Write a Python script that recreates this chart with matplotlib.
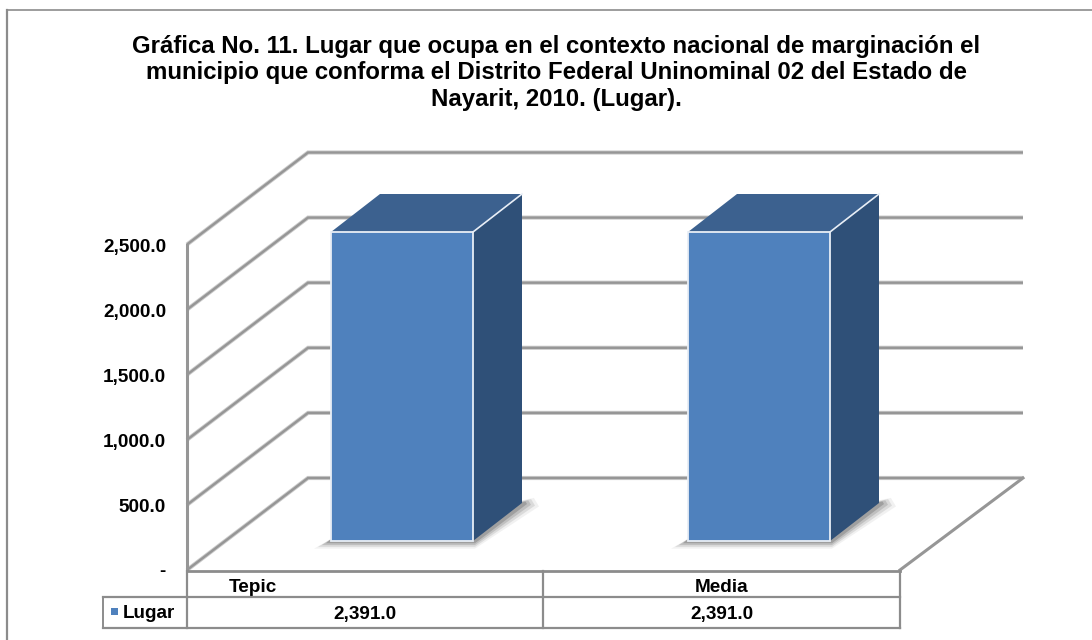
import matplotlib
matplotlib.use("Agg")
import matplotlib.pyplot as plt
from matplotlib.patches import Polygon, Rectangle

plt.rcParams['font.family'] = ['Liberation Sans', 'DejaVu Sans']

title = ("Gráfica No. 11. Lugar que ocupa en el contexto nacional de marginación el\n"
         "municipio que conforma el Distrito Federal Uninominal 02 del Estado de\n"
         "Nayarit, 2010. (Lugar).")
categories = ["Tepic", "Media"]
values = [2391.0, 2391.0]
series_name = "Lugar"
ticks = [0, 500, 1000, 1500, 2000, 2500]
tick_labels = ["-", "500.0", "1,000.0", "1,500.0", "2,000.0", "2,500.0"]

GREY = "#8c8c8c"
FRONT = "#4f81bd"
TOP = "#3c618f"
SIDE = "#2f5078"
EDGE = "#e8eef6"

# picture is laid out in pixels, y going down
fig = plt.figure(figsize=(10.92, 6.40), dpi=100)
ax = fig.add_axes([0, 0, 1, 1])
ax.set_xlim(0, 1092)
ax.set_ylim(640, 0)
ax.axis("off")

# front plane of the 3d box and its depth offset
x0, x1 = 187, 900
y0 = 570
px_per_unit = 65.1 / 500
dx, dy = 121, -92


def val_y(v):
    return y0 - v * px_per_unit


# frame of the chart area, only left and top show
ax.plot([7, 7], [640, 10], color=GREY, lw=1.6, zorder=1)
ax.plot([7, 1092], [10, 10], color=GREY, lw=1.2, zorder=1)

ax.text(556, 73, title, ha="center", va="center", fontsize=17.3, fontweight="bold",
        linespacing=1.18, color="black")

# walls and gridlines
for t, lab in zip(ticks, tick_labels):
    y = val_y(t)
    xs = [x0, x0 + dx, x1 + dx + 2]
    ys = [y, y + dy, y + dy]
    ax.plot(xs, ys, color="#cccccc", lw=3.0, solid_joinstyle="miter", solid_capstyle="butt", zorder=2)
    ax.plot(xs, ys, color="#969696", lw=1.7, solid_joinstyle="miter", solid_capstyle="butt", zorder=2)
    # the dash has no height so it sits a bit higher than the numbers
    ax.text(166, y + (1 if t == 0 else 2.5), lab, ha="right", va="center", fontsize=13.6, fontweight="bold")
ax.plot([x0, x0], [val_y(2500), y0], color="#969696", lw=2.2, zorder=2)
ax.plot([x1, x1 + dx + 2], [y0, y0 + dy], color="#969696", lw=2.2, zorder=2)

# bars
bar_left = [331, 688]
bar_w = 142
bar_dx, bar_dy = 49, -38
bar_base = 541
bar_scale = 309 / 2391
for left, v in zip(bar_left, values):
    right = left + bar_w
    top = bar_base - v * bar_scale
    # soft shadow on the floor
    for k, a in zip([17, 13, 9, 5], [0.08, 0.14, 0.2, 0.3]):
        ax.add_patch(Polygon([(left - k, bar_base + k * 0.45), (right + 2, bar_base + k * 0.45),
                              (right + bar_dx + k, bar_base + bar_dy + k * 0.2),
                              (right + bar_dx + k * 0.7, bar_base + bar_dy - k * 0.3),
                              (left, bar_base - 2)],
                             closed=True, fc="#555555", ec="none", alpha=a, zorder=3))
    ax.add_patch(Polygon([(left, top), (right, top), (right + bar_dx, top + bar_dy),
                          (left + bar_dx, top + bar_dy)],
                         closed=True, fc=TOP, ec="none", zorder=4))
    ax.add_patch(Polygon([(right, top), (right + bar_dx, top + bar_dy),
                          (right + bar_dx, bar_base + bar_dy), (right, bar_base)],
                         closed=True, fc=SIDE, ec="none", zorder=4))
    ax.add_patch(Rectangle((left, top), bar_w, bar_base - top, fc=FRONT, ec=EDGE,
                           lw=1.3, zorder=5))
    ax.plot([right, right + bar_dx], [top, top + bar_dy], color=EDGE, lw=1.2, zorder=5)

# data table under the axis
table_mid = 543
table_left = 103
row1, row2, row3 = 571, 597, 628
ax.plot([x0, x1], [row1, row1], color=GREY, lw=2.0, zorder=6)
ax.plot([table_left, x1], [row2, row2], color=GREY, lw=1.6, zorder=6)
ax.plot([table_left, x1], [row3, row3], color=GREY, lw=1.6, zorder=6)
ax.plot([table_left, table_left], [row2, row3], color=GREY, lw=1.4, zorder=6)
for x in (x0, table_mid, x1):
    ax.plot([x, x], [row1, row3], color=GREY, lw=1.6, zorder=6)

ax.text(253, 588, categories[0], ha="center", va="center", fontsize=13.6, fontweight="bold")
ax.text(722, 588, categories[1], ha="center", va="center", fontsize=13.6, fontweight="bold")
for xc, v in zip([365, 722], values):
    ax.text(xc, 615, f"{v:,.1f}", ha="center", va="center", fontsize=13.6, fontweight="bold")

ax.add_patch(Rectangle((111, 608), 7, 7, fc=FRONT, ec="none", zorder=6))
ax.text(123, 614, series_name, ha="left", va="center", fontsize=13.6, fontweight="bold")

fig.savefig("out.png", dpi=100)
